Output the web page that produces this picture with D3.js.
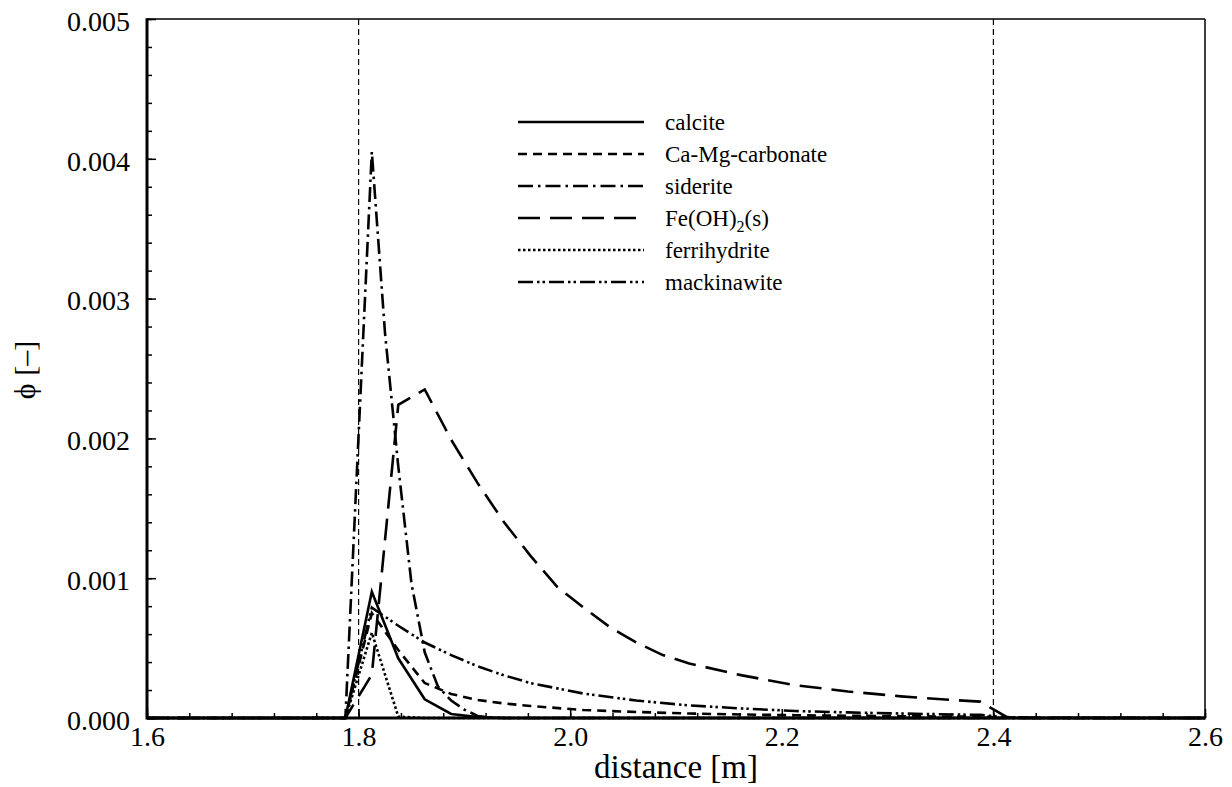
<!DOCTYPE html>
<html>
<head>
<meta charset="utf-8">
<script src="https://cdn.jsdelivr.net/npm/d3@7"></script>
<style>
  body { margin: 0; background: #fff; }
  text { font-family: "Liberation Serif", "Times New Roman", serif; fill: #000; }
</style>
</head>
<body>
<div id="chart"></div>
<script>
// data (distance in m, volume fraction)
var calciteX = [1.6, 1.7875, 1.8125, 1.8375, 1.8625, 1.8875, 1.9125, 1.9375, 2.6];
var calciteY = [0, 0, 0.000903, 0.000427, 0.000134, 0.000029, 0.000006, 0, 0];

var camgX = [1.6, 1.7875, 1.8125, 1.8375, 1.8625, 1.8875, 1.9125, 1.9375, 1.9625, 2.0125, 2.0625, 2.1125, 2.1625, 2.2125, 2.2625, 2.3125, 2.3625, 2.3875, 2.4125, 2.4375, 2.6];
var camgY = [0, 0, 0.00075, 0.000486, 0.00025, 0.000172, 0.000129, 0.000104, 0.000086, 0.000057, 0.000043, 0.000032, 0.000025, 0.00002, 0.000016, 0.000013, 0.00001, 0.00001, 0.000003, 0, 0];

var sideriteX = [1.6, 1.7875, 1.8125, 1.825, 1.8375, 1.85, 1.8625, 1.875, 1.8875, 1.9, 1.9125, 1.925, 1.9375, 2.6];
var sideriteY = [0, 0, 0.00405, 0.00275, 0.0018, 0.00096, 0.00047, 0.000225, 0.000125, 0.00006, 0.000014, 0.000003, 0, 0];

var feohX = [1.6, 1.7875, 1.8125, 1.8375, 1.8625, 1.8875, 1.9125, 1.9375, 1.9625, 1.9875, 2.0125, 2.0375, 2.0625, 2.0875, 2.1125, 2.1625, 2.2125, 2.2625, 2.3125, 2.3625, 2.3875, 2.4125, 2.4375, 2.6];
var feohY = [0, 0, 0.00031, 0.00224, 0.00235, 0.00199, 0.00168, 0.0014, 0.00116, 0.00094, 0.00079, 0.00065, 0.00054, 0.00045, 0.00039, 0.000305, 0.000235, 0.00019, 0.000155, 0.000128, 0.000117, 0.000008, 0.000002, 0];

var ferriX = [1.6, 1.7875, 1.8125, 1.8375, 1.8625, 2.6];
var ferriY = [0, 0, 0.00061, 0.00001, 0, 0];

var mackX = [1.6, 1.7875, 1.8125, 1.8375, 1.8625, 1.8875, 1.9125, 1.9375, 1.9625, 2.0125, 2.0625, 2.1125, 2.1625, 2.2125, 2.2625, 2.3125, 2.3625, 2.3875, 2.4125, 2.4375, 2.6];
var mackY = [0, 0, 0.00079, 0.00066, 0.00054, 0.00045, 0.00037, 0.000305, 0.00025, 0.000175, 0.000125, 0.00009, 0.000068, 0.00005, 0.00004, 0.000032, 0.000025, 0.000022, 0.000005, 0, 0];

var seriesNames = ["calcite", "Ca-Mg-carbonate", "siderite", "Fe(OH)2(s)", "ferrihydrite", "mackinawite"];
var xTicks = [1.6, 1.8, 2.0, 2.2, 2.4, 2.6];
var yTicks = [0, 0.001, 0.002, 0.003, 0.004, 0.005];
var markers = [1.8, 2.4];

var series = [
  {name: seriesNames[0], xs: calciteX, ys: calciteY, dash: null},
  {name: seriesNames[1], xs: camgX, ys: camgY, dash: "9,6"},
  {name: seriesNames[2], xs: sideriteX, ys: sideriteY, dash: "15,5,2.5,5"},
  {name: seriesNames[3], xs: feohX, ys: feohY, dash: "22,10"},
  {name: seriesNames[4], xs: ferriX, ys: ferriY, dash: "2.5,2.5"},
  {name: seriesNames[5], xs: mackX, ys: mackY, dash: "15,4,2.5,3,2.5,4"}
];

var serif = "Liberation Serif, Times New Roman, serif";

// set the dimensions and margins of the graph
var margin = {top: 19, right: 27, bottom: 69, left: 147},
    width = 1232 - margin.left - margin.right,
    height = 787 - margin.top - margin.bottom;

var svg = d3.select("#chart")
  .append("svg")
    .attr("width", width + margin.left + margin.right)
    .attr("height", height + margin.top + margin.bottom)
  .append("g")
    .attr("transform", "translate(" + margin.left + "," + margin.top + ")");

var x = d3.scaleLinear().domain([1.6, 2.6]).range([0, width]);
var y = d3.scaleLinear().domain([0, 0.005]).range([height, 0]);

// minor ticks (5 per major interval)
var xMinor = d3.range(0, 26).map(function(i) { return 1.6 + i * 0.04; });
var yMinor = d3.range(0, 26).map(function(i) { return i * 0.0002; });

svg.append("g")
  .attr("transform", "translate(0," + height + ")")
  .call(d3.axisBottom(x).tickValues(xMinor).tickSize(-5).tickFormat(""))
  .call(function(g) { g.select(".domain").remove(); });
svg.append("g")
  .call(d3.axisLeft(y).tickValues(yMinor).tickSize(-5).tickFormat(""))
  .call(function(g) { g.select(".domain").remove(); });

// X axis
svg.append("g")
  .attr("transform", "translate(0," + height + ")")
  .call(d3.axisBottom(x).tickValues(xTicks).tickSize(-9).tickPadding(8).tickFormat(d3.format(".1f")))
  .attr("font-family", serif)
  .attr("font-size", 28)
  .call(function(g) { g.select(".domain").remove(); });

// Y axis
svg.append("g")
  .call(d3.axisLeft(y).tickValues(yTicks).tickSize(-9).tickPadding(17).tickFormat(d3.format(".3f")))
  .attr("font-family", serif)
  .attr("font-size", 28)
  .call(function(g) {
    g.select(".domain").remove();
    g.selectAll("text").attr("dy", "0.4em");
  });

svg.selectAll(".tick line").attr("stroke", "#000").attr("stroke-width", 1.5);

// frame: thin top/right, heavy left/bottom
svg.append("line").attr("x1", 0).attr("x2", width).attr("y1", 0).attr("y2", 0)
  .attr("stroke", "#000").attr("stroke-width", 1.5);
svg.append("line").attr("x1", width).attr("x2", width).attr("y1", 0).attr("y2", height)
  .attr("stroke", "#000").attr("stroke-width", 1.5);

// dashed marker lines
svg.selectAll(".marker")
  .data(markers)
  .enter()
  .append("line")
    .attr("x1", function(d) { return x(d); })
    .attr("x2", function(d) { return x(d); })
    .attr("y1", 0)
    .attr("y2", height)
    .attr("stroke", "#000")
    .attr("stroke-width", 1.2)
    .attr("stroke-dasharray", "6,4");

// series lines
var line = d3.line()
  .x(function(d) { return x(d[0]); })
  .y(function(d) { return y(d[1]); });

svg.selectAll(".series")
  .data(series)
  .enter()
  .append("path")
    .attr("fill", "none")
    .attr("stroke", "#000")
    .attr("stroke-width", 2.6)
    .attr("stroke-dasharray", function(d) { return d.dash; })
    .attr("d", function(d) { return line(d3.zip(d.xs, d.ys)); });

svg.append("line").attr("x1", 0).attr("x2", 0).attr("y1", -0.75).attr("y2", height + 1.5)
  .attr("stroke", "#000").attr("stroke-width", 3);
svg.append("line").attr("x1", 0).attr("x2", width + 0.75).attr("y1", height).attr("y2", height)
  .attr("stroke", "#000").attr("stroke-width", 3);

// legend
var legend = svg.append("g").attr("transform", "translate(" + (518 - margin.left) + "," + (122 - margin.top) + ")");
series.forEach(function(s, i) {
  legend.append("line")
    .attr("x1", 0).attr("x2", 126)
    .attr("y1", i * 32).attr("y2", i * 32)
    .attr("stroke", "#000")
    .attr("stroke-width", 2.6)
    .attr("stroke-dasharray", s.dash);
  var t = legend.append("text")
    .attr("x", 147)
    .attr("y", i * 32 + 8)
    .style("font-size", "23px");
  if (s.name === "Fe(OH)2(s)") {
    t.append("tspan").text("Fe(OH)");
    t.append("tspan").attr("dy", 6).style("font-size", "16px").text("2");
    t.append("tspan").attr("dy", -6).text("(s)");
  } else {
    t.text(s.name);
  }
});

// axis titles
svg.append("text")
  .attr("x", (676 - margin.left))
  .attr("y", height + 60)
  .attr("text-anchor", "middle")
  .style("font-size", "33px")
  .text("distance [m]");

svg.append("text")
  .attr("transform", "rotate(-90)")
  .attr("x", -(370 - margin.top))
  .attr("y", 35 - margin.left)
  .attr("text-anchor", "middle")
  .style("font-size", "30px")
  .text("ϕ [–]");
</script>
</body>
</html>
